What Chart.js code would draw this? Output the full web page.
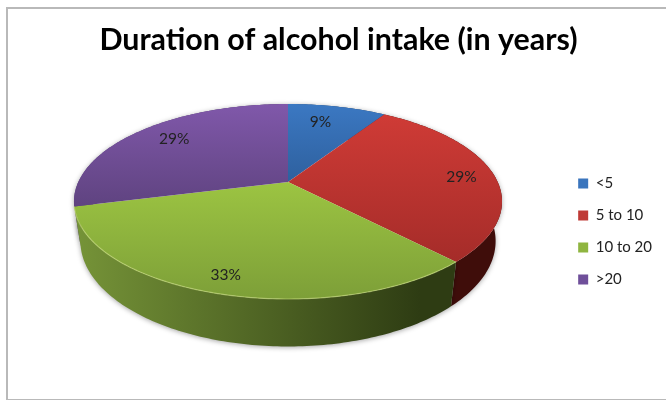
<!DOCTYPE html>
<html>
<head>
<meta charset="utf-8">
<title>Duration of alcohol intake</title>
<script src="https://cdn.jsdelivr.net/npm/chart.js@4"></script>
<style>
  html, body { margin: 0; padding: 0; background: #fff; width: 666px; height: 400px; overflow: hidden; }
  #frame { position: absolute; left: 6px; top: 7px; width: 720px; height: 390px; border: 2px solid #b9b9b9; }
  #oi { position: absolute; left: 0; top: 0; }
</style>
</head>
<body>
<div id="frame"></div>
<canvas id="oi" width="677" height="400"></canvas>
<script>
const categories = ['<5', '5 to 10', '10 to 20', '>20'];
const shares = [9, 29, 33, 29];

const swatches = ['#3a75bd', '#bf3a36', '#8fb540', '#6f4f9a'];
const faceTop = ['#3b78c2', '#cf3b36', '#9cc442', '#8058aa'];
const faceBottom = ['#2e609e', '#a52c29', '#7d9f38', '#5f4380'];
const wallLeft = ['#2a5a92', '#6b1613', '#769438', '#5c4080'];
const wallRight = ['#1d3c62', '#3f0d0a', '#2e3c13', '#3d2a55'];
// label shift from the default spot on each slice
const labelNudge = [[-8, 2], [9, 2], [-7, 8], [7, -1]];

// tilted disc: the near side comes out larger than the far side
const disc = { x: 288, y: 182, a: 209.7, b: 93.6, tilt: 0.2, depth: 38, shrink: 0.97 };

function project(angle, r, lower) {
  const w = 1 / (1 - disc.tilt * r * Math.sin(angle));
  const px = disc.a * r * Math.cos(angle) * w;
  const py = disc.b * r * Math.sin(angle) * w;
  if (lower) {
    return { x: disc.x + px * disc.shrink, y: disc.y + py + disc.depth * w };
  }
  return { x: disc.x + px, y: disc.y + py };
}

function traceRim(ctx, from, to, lower) {
  const steps = Math.max(8, Math.ceil(Math.abs(to - from) * 60));
  for (let i = 0; i <= steps; i++) {
    const p = project(from + (to - from) * i / steps, 1, lower);
    ctx.lineTo(p.x, p.y);
  }
}

function drawWall(ctx, arc, i) {
  const grad = ctx.createLinearGradient(74, 0, 420, 0);
  grad.addColorStop(0, wallLeft[i]);
  grad.addColorStop(1, wallRight[i]);
  ctx.save();
  ctx.shadowColor = 'rgba(0,0,0,0.35)';
  ctx.shadowBlur = 5;
  ctx.shadowOffsetY = 1;
  ctx.fillStyle = grad;
  ctx.beginPath();
  traceRim(ctx, arc.startAngle, arc.endAngle, false);
  traceRim(ctx, arc.endAngle, arc.startAngle, true);
  ctx.closePath();
  ctx.fill();
  ctx.restore();
}

function drawFace(ctx, arc, i) {
  let top = Infinity, bottom = -Infinity;
  for (let k = 0; k <= 40; k++) {
    const y = project(arc.startAngle + (arc.endAngle - arc.startAngle) * k / 40, 1, false).y;
    top = Math.min(top, y);
    bottom = Math.max(bottom, y);
  }
  top = Math.min(top, disc.y);
  bottom = Math.max(bottom, disc.y);
  const grad = ctx.createLinearGradient(0, top, 0, bottom);
  grad.addColorStop(0, faceTop[i]);
  grad.addColorStop(1, faceBottom[i]);
  ctx.fillStyle = grad;
  ctx.beginPath();
  ctx.moveTo(disc.x, disc.y);
  traceRim(ctx, arc.startAngle, arc.endAngle, false);
  ctx.closePath();
  ctx.fill();
}

const tiltedPie = {
  id: 'tiltedPie',
  beforeDatasetsDraw(chart) {
    const ctx = chart.ctx;
    const arcs = chart.getDatasetMeta(0).data;
    // far slices first so the front wall sits on top
    [3, 0, 1, 2].forEach(i => drawWall(ctx, arcs[i], i));
    arcs.forEach((arc, i) => drawFace(ctx, arc, i));

    // thin bevel along the front rim
    ctx.save();
    ctx.strokeStyle = 'rgba(205,225,130,0.55)';
    ctx.lineWidth = 1.2;
    ctx.beginPath();
    traceRim(ctx, arcs[2].startAngle, arcs[2].endAngle, false);
    ctx.stroke();
    ctx.restore();

    ctx.save();
    ctx.font = '15.5px Lato';
    ctx.fillStyle = '#222';
    ctx.textAlign = 'center';
    ctx.textBaseline = 'middle';
    arcs.forEach((arc, i) => {
      const p = project((arc.startAngle + arc.endAngle) / 2, 0.8, false);
      ctx.fillText(shares[i] + '%', p.x + labelNudge[i][0], p.y + labelNudge[i][1]);
    });
    ctx.restore();
    return false;
  }
};

const price = new Chart(document.getElementById('oi'), {
  type: 'pie',
  data: {
    labels: categories,
    datasets: [{ data: shares, backgroundColor: swatches, borderWidth: 0 }]
  },
  plugins: [tiltedPie],
  options: {
    responsive: false,
    animation: false,
    layout: { padding: { left: 15, right: 15, bottom: 96 } },
    plugins: {
      tooltip: { enabled: false },
      title: {
        display: true,
        text: 'Duration of alcohol intake (in years)',
        color: '#000',
        font: { family: 'Lato', size: 30.4, weight: 'bold' },
        padding: { top: 22, bottom: 16 }
      },
      legend: {
        position: 'right',
        align: 'end',
        labels: {
          boxWidth: 10,
          boxHeight: 10,
          padding: 17,
          color: '#222',
          font: { family: 'Lato', size: 15 }
        }
      }
    }
  }
});
</script>
</body>
</html>
